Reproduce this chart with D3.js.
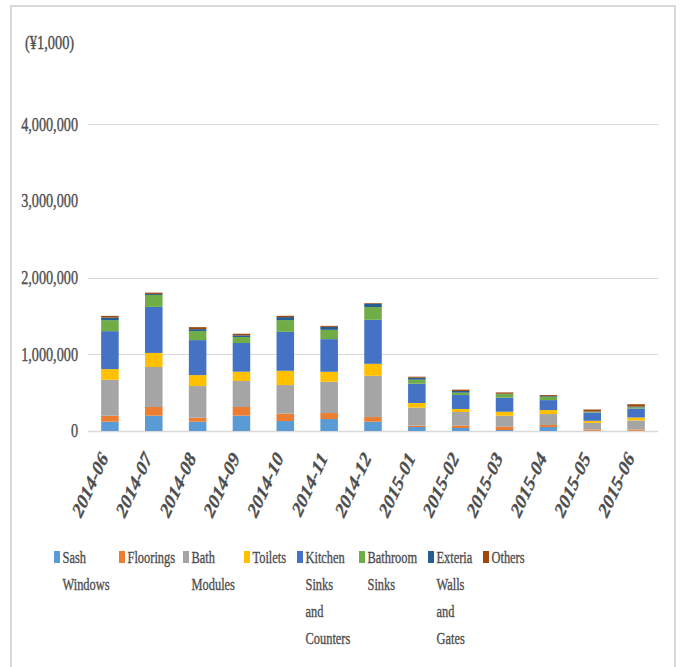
<!DOCTYPE html>
<html>
<head>
<meta charset="utf-8">
<script src="https://cdn.jsdelivr.net/npm/d3@7"></script>
<style>
	body { margin: 0; background: #fff; }
	text { font-family: "Liberation Serif", "Times New Roman", serif; fill: #4d4d4d; stroke: #4d4d4d; stroke-width: 0.35px; }
</style>
</head>
<body>
<div id="chart"></div>
<script>
var w = 680,
	h = 667;

// months on the x axis
var months = ['2014-06', '2014-07', '2014-08', '2014-09', '2014-10', '2014-11', '2014-12',
	'2015-01', '2015-02', '2015-03', '2015-04', '2015-05', '2015-06'];

// values in 1,000 yen
var sashWindows   = [121000, 200000, 121000, 200000, 130000, 156000, 121000, 52000, 39000, 13000, 52000, 3000, 3000];
var floorings     = [78000, 113000, 52000, 113000, 95000, 78000, 61000, 17000, 30000, 43000, 26000, 17000, 17000];
var bathModules   = [469000, 522000, 413000, 339000, 374000, 408000, 538000, 235000, 179000, 143000, 143000, 87000, 117000];
var toilets       = [139000, 183000, 143000, 121000, 186000, 130000, 156000, 61000, 39000, 52000, 52000, 26000, 39000];
var kitchenSinks  = [495000, 600000, 456000, 374000, 508000, 426000, 574000, 252000, 183000, 183000, 130000, 108000, 117000];
var bathroomSinks = [143000, 156000, 117000, 78000, 153000, 121000, 166000, 52000, 30000, 48000, 43000, 9000, 17000];
var exteriaWalls  = [35000, 13000, 26000, 22000, 39000, 39000, 43000, 26000, 22000, 4000, 9000, 4000, 9000];
var others        = [21000, 17000, 26000, 21000, 17000, 13000, 9000, 13000, 17000, 17000, 13000, 26000, 30000];

var seriesKeys = ['sash', 'floor', 'bath', 'toilet', 'kitchen', 'bsink', 'ext', 'other'];
var seriesValues = [sashWindows, floorings, bathModules, toilets, kitchenSinks, bathroomSinks, exteriaWalls, others];
var legendLines = [['Sash', 'Windows'], ['Floorings'], ['Bath', 'Modules'], ['Toilets'],
	['Kitchen', 'Sinks', 'and', 'Counters'], ['Bathroom', 'Sinks'], ['Exteria', 'Walls', 'and', 'Gates'], ['Others']];
var colors = ['#5b9bd5', '#ed7d31', '#a5a5a5', '#ffc000', '#4472c4', '#70ad47', '#255e91', '#9e480e'];
var yTicks = [0, 1000000, 2000000, 3000000, 4000000];

// legend layout (x of each marker)
var legendX = [54, 119, 183, 244, 297, 359, 428, 483];

var table = months.map(function(m, i) {
	var row = { month: m };
	seriesKeys.forEach(function(k, j) { row[k] = seriesValues[j][i] });
	return row;
});
var stacked = d3.stack().keys(seriesKeys)(table);

var svg = d3.select('#chart').append('svg')
	.attr('width', w)
	.attr('height', h);

// outer frame
svg.append('rect')
	.attr('x', 11).attr('y', 6)
	.attr('width', 664).attr('height', 720)
	.attr('fill', 'none')
	.attr('stroke', '#d9d9d9')
	.attr('stroke-width', 2);

var x = d3.scaleBand().domain(months).range([88, 658]).paddingInner(0.6).paddingOuter(0.3);
var y = d3.scaleLinear().domain([0, 5000000]).range([431, 47.5]);

// gridlines (the 3,000,000 line does not show in the original)
svg.append('g').selectAll('line')
	.data(yTicks.filter(function(d) { return d != 3000000 }))
	.enter().append('line')
	.attr('x1', 88).attr('x2', 658)
	.attr('y1', function(d) { return Math.round(y(d)) + 0.5 })
	.attr('y2', function(d) { return Math.round(y(d)) + 0.5 })
	.attr('stroke', '#d9d9d9')
	.attr('stroke-width', function(d) { return d == 0 ? 1.5 : 1 });

// y tick labels
svg.append('g').selectAll('text')
	.data(yTicks)
	.enter().append('text')
	.attr('transform', function(d) { return 'translate(78,' + y(d) + ') scale(0.79,1)' })
	.attr('dy', '0.35em')
	.attr('text-anchor', 'end')
	.style('font-size', '18px')
	.text(d3.format(','));

svg.append('text')
	.attr('transform', 'translate(25,43) scale(0.8,1)')
	.attr('dy', '0.35em')
	.style('font-size', '18px')
	.text('(¥1,000)');

// bars
svg.append('g').selectAll('g')
	.data(stacked)
	.enter().append('g')
	.attr('fill', function(d, i) { return colors[i] })
	.selectAll('rect')
	.data(function(d) { return d })
	.enter().append('rect')
	.attr('x', function(d) { return x(d.data.month) })
	.attr('width', x.bandwidth())
	.attr('y', function(d) { return y(d[1]) })
	.attr('height', function(d) { return y(d[0]) - y(d[1]) });

// x labels
svg.append('g').selectAll('text')
	.data(months)
	.enter().append('text')
	.attr('transform', function(d) {
		return 'translate(' + (x(d) + x.bandwidth() / 2 - 1) + ',458) scale(0.8,1) rotate(-60)';
	})
	.attr('text-anchor', 'end')
	.style('font-size', '21px')
	.style('font-weight', 'bold')
	.style('font-style', 'italic')
	.text(function(d) { return d });

// legend
var legend = svg.append('g').selectAll('g')
	.data(legendLines)
	.enter().append('g')
	.attr('transform', function(d, i) { return 'translate(' + legendX[i] + ',0)' });

legend.append('rect')
	.attr('x', 0).attr('y', 551)
	.attr('width', 6).attr('height', 12)
	.attr('fill', function(d, i) { return colors[i] });

legend.selectAll('text')
	.data(function(d) { return d })
	.enter().append('text')
	.attr('transform', function(d, i) { return 'translate(8.5,' + (563 + i * 27) + ') scale(0.71,1)' })
	.style('font-size', '17.5px')
	.text(function(d) { return d });
</script>
</body>
</html>
